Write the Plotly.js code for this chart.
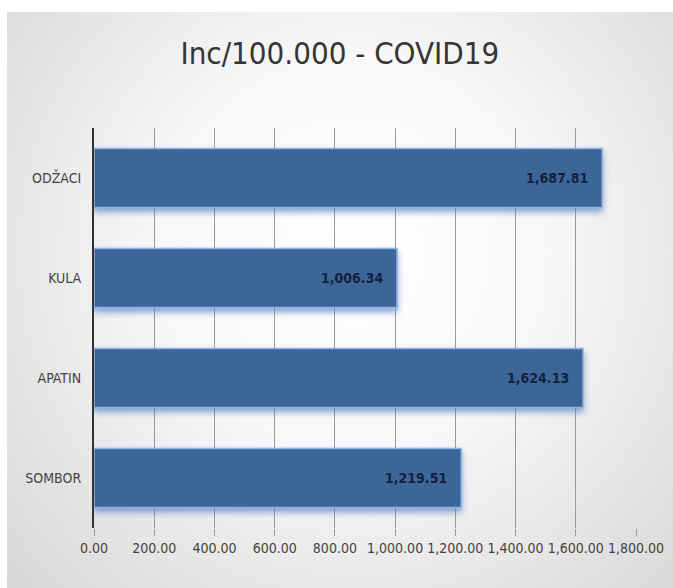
<!DOCTYPE html>
<html>
<head>
<meta charset="utf-8">
<script src="https://cdn.plot.ly/plotly-3.0.1.min.js"></script>
<style>
html,body{margin:0;padding:0;background:#fff;}
#wrap{position:absolute;left:7px;top:12px;width:666px;height:576px;
  background:radial-gradient(ellipse 72% 85% at 52% 42%, #ffffff 0%, #f8f8f8 40%, #d6d6d6 100%);}
#chart{position:absolute;left:0;top:0;width:673px;height:588px;}
.trace.bars .point path{filter:drop-shadow(0px 4px 3px rgba(70,120,190,0.65));}
</style>
</head>
<body>
<div id="wrap"></div>
<div id="chart"></div>
<script>
const categories = ["SOMBOR", "APATIN", "KULA", "ODŽACI"];
const values = [1219.51, 1624.13, 1006.34, 1687.81];
const tickVals = [0, 200, 400, 600, 800, 1000, 1200, 1400, 1600, 1800];

const fontFam = "'Liberation Sans Narrow', 'DejaVu Sans Condensed', 'Roboto Condensed', sans-serif";

const fmt = v => v.toLocaleString('en-US', {minimumFractionDigits: 2, maximumFractionDigits: 2});

const trace = {
  type: 'bar',
  orientation: 'h',
  y: categories,
  x: values,
  width: 0.59,
  marker: {color: '#3C6598', line: {color: '#8FB4E3', width: 1.5}},
  hoverinfo: 'skip'
};

const annotations = values.map((v, i) => ({
  x: v, y: categories[i], xref: 'x', yref: 'y',
  text: fmt(v), showarrow: false, xanchor: 'right', xshift: -12,
  font: {family: fontFam, size: 14, color: '#14213d', weight: 'bold'}
}));

const layout = {
  width: 673, height: 588,
  paper_bgcolor: 'rgba(0,0,0,0)',
  plot_bgcolor: 'rgba(0,0,0,0)',
  margin: {l: 94, r: 37, t: 128, b: 60},
  title: {text: 'Inc/100.000 - COVID19', x: 0.505, xanchor: 'center', y: 0.91, yanchor: 'middle',
    font: {family: fontFam, size: 31, color: '#353535'}},
  showlegend: false,
  bargap: 0.41,
  xaxis: {
    range: [0, 1800], tickvals: tickVals, ticktext: tickVals.map(fmt),
    showgrid: true, gridcolor: '#9a9a9a', gridwidth: 1,
    zeroline: false, showline: false,
    ticks: 'outside', ticklen: 7, tickcolor: '#9a9a9a',
    tickfont: {family: fontFam, size: 14, color: '#444444'},
    fixedrange: true
  },
  yaxis: {
    categoryorder: 'array', categoryarray: categories,
    range: [-0.5, 3.5],
    showline: true, linecolor: '#333333', linewidth: 2,
    showgrid: false, zeroline: false, ticks: '',
    ticklabelstandoff: 8,
    tickfont: {family: fontFam, size: 14, color: '#444444'},
    fixedrange: true
  },
  annotations: annotations
};

Plotly.newPlot('chart', [trace], layout, {displayModeBar: false, staticPlot: true});
</script>
</body>
</html>
